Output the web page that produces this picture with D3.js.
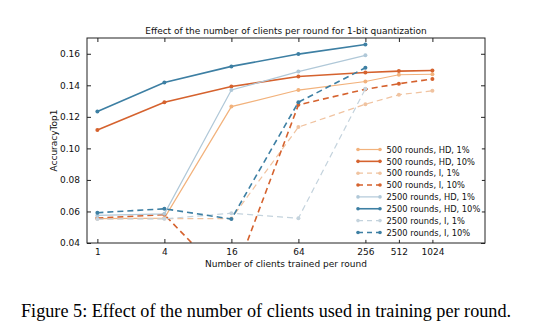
<!DOCTYPE html>
<html>
<head>
<meta charset="utf-8">
<script src="https://cdn.jsdelivr.net/npm/d3@7"></script>
<style>
  body { margin: 0; background: #fff; }
  svg { display: block; }
  .tick-text { font-family: "DejaVu Sans", sans-serif; font-size: 9px; fill: #111; }
</style>
</head>
<body>
<div id="chart"></div>
<script>
// Clients trained per round (log2 x axis)
const clients = [1, 4, 16, 64, 256, 512, 1024];
const xTickLabels = ["1", "4", "16", "64", "256", "512", "1024"];
const yTicks = [0.04, 0.06, 0.08, 0.10, 0.12, 0.14, 0.16];

const seriesNames = [
  "500 rounds, HD, 1%",
  "500 rounds, HD, 10%",
  "500 rounds, I, 1%",
  "500 rounds, I, 10%",
  "2500 rounds, HD, 1%",
  "2500 rounds, HD, 10%",
  "2500 rounds, I, 1%",
  "2500 rounds, I, 10%"
];

// Top-1 accuracy per series (null = not run)
const r500_hd_1  = [0.0555, 0.0558, 0.1265, 0.1370, 0.1424, 0.1467, 0.1470];
const r500_hd_10 = [0.1117, 0.1293, 0.1392, 0.1456, 0.1481, 0.1490, 0.1494];
const r500_i_1   = [0.0553, 0.0555, 0.0555, 0.1135, 0.1280, 0.1340, 0.1365];
const r500_i_10  = [0.0558, 0.0580, 0.0140, 0.1276, 0.1375, 0.1410, 0.1440];
const r2500_hd_1  = [0.0575, 0.0585, 0.1370, 0.1487, 0.1590, null, null];
const r2500_hd_10 = [0.1234, 0.1418, 0.1520, 0.1598, 0.1659, null, null];
const r2500_i_1   = [0.0552, 0.0553, 0.0589, 0.0557, 0.1378, null, null];
const r2500_i_10  = [0.0592, 0.0617, 0.0552, 0.1293, 0.1511, null, null];

const seriesValues = [r500_hd_1, r500_hd_10, r500_i_1, r500_i_10,
                      r2500_hd_1, r2500_hd_10, r2500_i_1, r2500_i_10];
const seriesColors = ["#f2b27c", "#d5622e", "#f0c3a0", "#d5622e",
                      "#b0c8d8", "#3d7fa3", "#c4d3dd", "#3d7fa3"];
const seriesDashed = [false, false, true, true, false, false, true, true];
const seriesWidth  = [1.2, 1.6, 1.2, 1.6, 1.2, 1.6, 1.2, 1.6];

const W = 540, H = 335;
const m = { left: 87, top: 38, right: 485, bottom: 243 };

const svg = d3.select("#chart").append("svg")
  .attr("width", W).attr("height", H);

const x = d3.scaleLog().base(2)
  .domain([Math.pow(2, -0.31), Math.pow(2, 11.57)])
  .range([m.left, m.right]);
const y = d3.scaleLinear().domain([0.04, 0.17]).range([m.bottom, m.top]);

svg.append("defs").append("clipPath").attr("id", "plot-clip")
  .append("rect")
  .attr("x", m.left).attr("y", m.top)
  .attr("width", m.right - m.left).attr("height", m.bottom - m.top);

// Series lines
const plot = svg.append("g").attr("clip-path", "url(#plot-clip)");
const line = d3.line()
  .defined(d => d.v !== null)
  .x(d => x(d.c)).y(d => y(d.v));

seriesValues.forEach((vals, i) => {
  const pts = clients.map((c, j) => ({ c, v: vals[j] }));
  const g = plot.append("g");
  g.append("path")
    .datum(pts)
    .attr("fill", "none")
    .attr("stroke", seriesColors[i])
    .attr("stroke-width", seriesWidth[i])
    .attr("stroke-dasharray", seriesDashed[i] ? "6,4" : null)
    .attr("d", line);
  g.selectAll("circle")
    .data(pts.filter(d => d.v !== null))
    .join("circle")
    .attr("cx", d => x(d.c)).attr("cy", d => y(d.v))
    .attr("r", 2)
    .attr("fill", seriesColors[i]);
});

// Frame
svg.append("rect")
  .attr("x", m.left).attr("y", m.top)
  .attr("width", m.right - m.left).attr("height", m.bottom - m.top)
  .attr("fill", "none").attr("stroke", "#222").attr("stroke-width", 1);

// Inward ticks on all four sides
const axBottom = d3.axisBottom(x).tickValues(clients)
  .tickFormat((d, i) => xTickLabels[i]).tickSizeInner(-4).tickSizeOuter(0).tickPadding(6);
const gx = svg.append("g").attr("transform", `translate(0,${m.bottom})`).call(axBottom);
const axTop = d3.axisTop(x).tickValues(clients).tickFormat("").tickSizeInner(-4).tickSizeOuter(0);
const gxt = svg.append("g").attr("transform", `translate(0,${m.top})`).call(axTop);

const axLeft = d3.axisLeft(y).tickValues(yTicks)
  .tickFormat(d3.format(".2f")).tickSizeInner(-4).tickSizeOuter(0).tickPadding(7);
const gy = svg.append("g").attr("transform", `translate(${m.left},0)`).call(axLeft);
const axRight = d3.axisRight(y).tickValues(yTicks).tickFormat("").tickSizeInner(-4).tickSizeOuter(0);
const gyr = svg.append("g").attr("transform", `translate(${m.right},0)`).call(axRight);

[gx, gxt, gy, gyr].forEach(g => {
  g.select(".domain").remove();
  g.selectAll(".tick line").attr("stroke", "#222");
  g.selectAll(".tick text").attr("class", "tick-text").attr("fill", "#111");
});

// Title and axis labels
svg.append("text")
  .attr("x", (m.left + m.right) / 2).attr("y", 34)
  .attr("text-anchor", "middle")
  .attr("font-family", "DejaVu Sans, sans-serif").attr("font-size", 9)
  .attr("fill", "#111")
  .text("Effect of the number of clients per round for 1-bit quantization");

svg.append("text")
  .attr("x", (m.left + m.right) / 2).attr("y", 267)
  .attr("text-anchor", "middle")
  .attr("font-family", "DejaVu Sans, sans-serif").attr("font-size", 9)
  .attr("fill", "#111")
  .text("Number of clients trained per round");

svg.append("text")
  .attr("transform", `translate(57,${(m.top + m.bottom) / 2}) rotate(-90)`)
  .attr("text-anchor", "middle")
  .attr("font-family", "DejaVu Sans, sans-serif").attr("font-size", 9)
  .attr("fill", "#111")
  .text("AccuracyTop1");

// Legend
const legend = svg.append("g");
legend.append("rect")
  .attr("x", 354).attr("y", 142).attr("width", 128).attr("height", 98)
  .attr("fill", "#fff").attr("opacity", 0.85);
seriesNames.forEach((name, i) => {
  const ly = 149.5 + i * 11.85;
  const row = legend.append("g");
  row.append("line")
    .attr("x1", 358).attr("x2", 380).attr("y1", ly).attr("y2", ly)
    .attr("stroke", seriesColors[i]).attr("stroke-width", seriesWidth[i])
    .attr("stroke-dasharray", seriesDashed[i] ? "5,4" : null);
  [358, 380].forEach(cx => row.append("circle")
    .attr("cx", cx).attr("cy", ly).attr("r", 1.8).attr("fill", seriesColors[i]));
  row.append("text")
    .attr("x", 386.5).attr("y", ly + 3.2)
    .attr("font-family", "DejaVu Sans, sans-serif").attr("font-size", 8.3)
    .attr("fill", "#111")
    .text(name);
});

// Caption
svg.append("text")
  .attr("x", 21).attr("y", 317)
  .attr("font-family", "Liberation Serif, Times New Roman, serif").attr("font-size", 18.2)
  .attr("fill", "#000")
  .text("Figure 5: Effect of the number of clients used in training per round.");
</script>
</body>
</html>
